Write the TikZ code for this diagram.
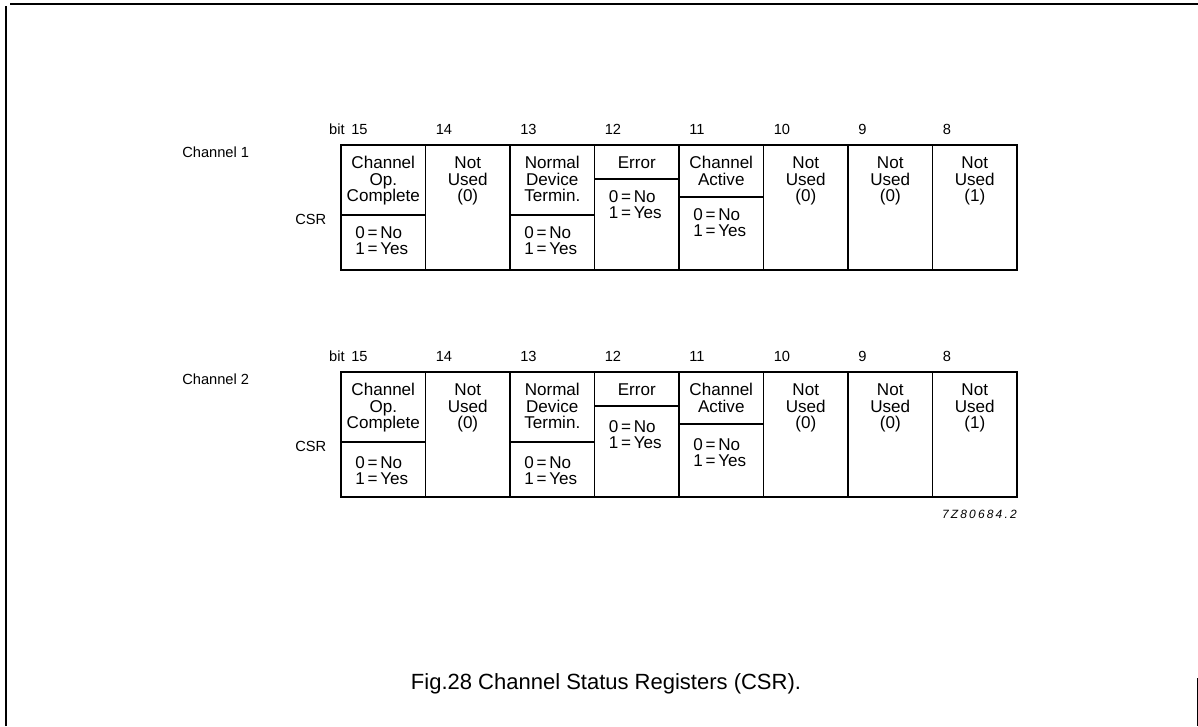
\documentclass[tikz,border=0pt]{standalone}
\usepackage{fontspec}
\setmainfont{Liberation Sans}
\newfontfamily\idfont[LetterSpace=18]{Liberation Sans}
\begin{document}
\begin{tikzpicture}[x=0.75pt,y=-0.75pt,
	reg/.style={line width=1.4pt},
	field/.style={anchor=north, inner sep=0pt, align=center, font=\fontsize{12.8}{12.4}\selectfont},
	flag/.style={anchor=north west, inner sep=0pt, align=left, font=\fontsize{12.8}{12.2}\selectfont},
	lbl/.style={inner sep=0pt, font=\fontsize{11}{12}\selectfont}]
	\useasboundingbox (0,0) rectangle (1198,726);
	% page frame
	\draw[line width=1.4pt] (6,726) -- (6,6);
	\draw[line width=1.2pt] (10,4) -- (1198,4);
	\draw (1197,678) -- (1197,726);
	\foreach \ry/\ch/\gap in {145/1/0,372/2/3}
	{
		% register contour and bit fields
		\draw[reg] (341,\ry) rectangle (1017,\ry+125);
		\foreach \i in {1,...,7}
			\draw[reg] (341+84.5*\i,\ry) -- (341+84.5*\i,\ry+125);
		% field dividers
		\draw[reg] (341,\ry+70) -- (425.5,\ry+70);
		\draw[reg] (510,\ry+70) -- (594.5,\ry+70);
		\draw[reg] (594.5,\ry+34) -- (679,\ry+34);
		\draw[reg] (679,\ry+52) -- (763.5,\ry+52);
		% labels
		\node[lbl, anchor=base west] (chan\ch) at (182,\ry+12) {Channel \ch};
		\node[lbl, anchor=base west] (csr\ch) at (295,\ry+79) {CSR};
		\node[lbl, anchor=base east] (bit\ch) at (345,\ry-11) {bit};
		\foreach \b [count=\i from 0] in {15,14,...,8}
			\node[lbl, anchor=base west] (b\ch-\b) at (351+84.5*\i,\ry-11) {\b};
		% field names
		\foreach \txt [count=\i from 0] in {Channel\\Op.\\Complete,Not\\Used\\(0),Normal\\Device\\Termin.,Error,Channel\\Active,Not\\Used\\(0),Not\\Used\\(0),Not\\Used\\(1)}
			\node[field] (f\ch-\i) at (383.25+84.5*\i,\ry+11) {\vphantom{Ch}\txt};
		% yes/no values
		\foreach \i/\dy in {0/70,2/70,3/34,4/52}
			\node[flag] (v\ch-\i) at (355+84.5*\i,\ry+\dy+\gap+10.5) {\vphantom{Ch}0\,=\,No\\1\,=\,Yes};
	}
	\node[lbl, anchor=base east, font=\idfont\fontsize{9}{10}\selectfont\itshape] (id) at (1017,518) {7Z80684.2};
	\node[anchor=base, inner sep=0pt, font=\fontsize{16.5}{18}\selectfont] (caption) at (606,689) {Fig.28 Channel Status Registers (CSR).};
\end{tikzpicture}
\end{document}
